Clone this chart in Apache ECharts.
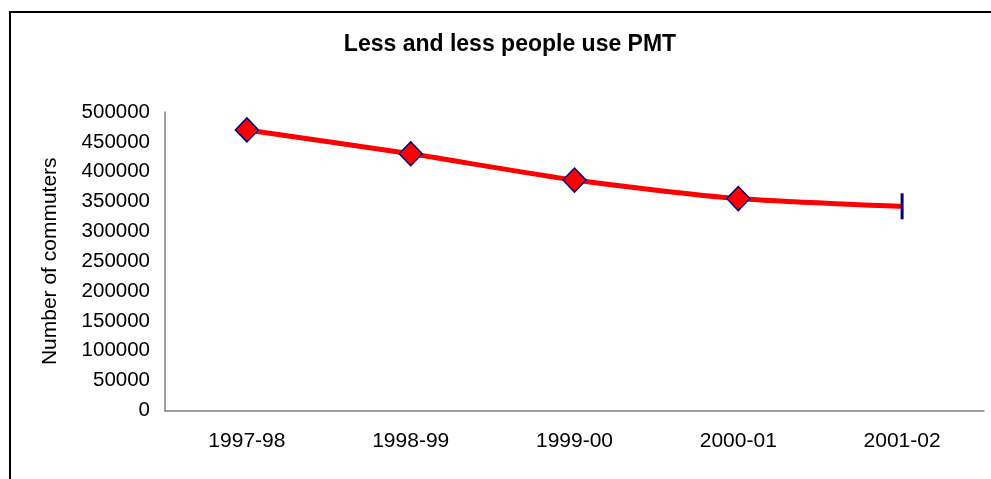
<!DOCTYPE html>
<html>
<head>
<meta charset="utf-8">
<script src="https://cdn.jsdelivr.net/npm/echarts@6/dist/echarts.min.js"></script>
<style>html,body{margin:0;padding:0;background:#fff}#c{width:991px;height:479px}</style>
</head>
<body>
<div id="c"></div>
<script>
var titleText = 'Less and less people use PMT';
var yAxisTitle = 'Number of commuters';
var categories = ['1997-98', '1998-99', '1999-00', '2000-01', '2001-02'];
var commuters = [470000, 430000, 386000, 355000, 342000];

var FONT = '"Liberation Sans", Arial, sans-serif';
var chart = echarts.init(document.getElementById('c'), null, {renderer: 'canvas'});

var seriesData = commuters.map(function (v, i) {
  if (i === commuters.length - 1) {
    return {value: v, symbol: 'rect', symbolSize: [3, 26], itemStyle: {color: '#000080', borderWidth: 0}};
  }
  return {value: v};
});

chart.setOption({
  backgroundColor: '#fff',
  animation: false,
  title: {
    text: titleText,
    left: 505,
    textAlign: 'center',
    top: 28,
    textStyle: {fontFamily: FONT, fontWeight: 'bold', fontSize: 23, color: '#000'}
  },
  graphic: [{
    type: 'rect',
    shape: {x: 10, y: 12, width: 1000, height: 500},
    style: {fill: 'none', stroke: '#000', lineWidth: 2},
    silent: true
  }],
  grid: {left: 165, top: 112, right: 7, bottom: 68.5, containLabel: false},
  xAxis: {
    type: 'category',
    data: categories,
    boundaryGap: true,
    axisLine: {lineStyle: {color: '#808080', width: 1.5}},
    axisTick: {show: false},
    axisLabel: {fontFamily: FONT, fontSize: 21, color: '#000', margin: 20},
    splitLine: {show: false}
  },
  yAxis: {
    type: 'value',
    min: 0,
    max: 500000,
    interval: 50000,
    name: yAxisTitle,
    nameLocation: 'middle',
    nameGap: 104,
    nameTextStyle: {fontFamily: FONT, fontSize: 21, color: '#000'},
    axisLine: {show: true, lineStyle: {color: '#808080', width: 1.5}},
    axisTick: {show: false},
    axisLabel: {fontFamily: FONT, fontSize: 20.5, color: '#000', margin: 15,
      formatter: function (v) { return String(v); }},
    splitLine: {show: false}
  },
  series: [{
    type: 'line',
    data: seriesData,
    smooth: 0.25,
    symbol: 'diamond',
    symbolSize: [23, 24],
    lineStyle: {color: '#FF0000', width: 5},
    itemStyle: {color: '#FF0000', borderColor: '#000080', borderWidth: 1.5}
  }]
});
</script>
</body>
</html>
